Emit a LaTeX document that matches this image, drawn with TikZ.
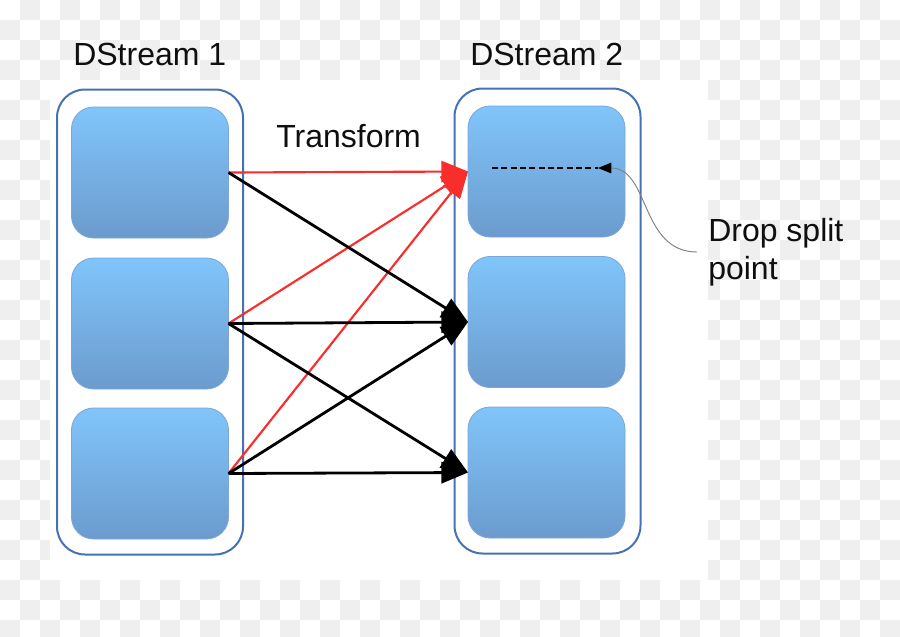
\documentclass[tikz,border=0pt]{standalone}
\usepackage{fontspec}
\setmainfont{Liberation Sans}
\usetikzlibrary{arrows.meta}
\definecolor{checkgray}{RGB}{239,239,239}
\definecolor{boxtop}{RGB}{128,197,250}
\definecolor{boxbot}{RGB}{108,155,206}
\definecolor{boxedge}{RGB}{125,165,215}
\definecolor{contedge}{RGB}{70,114,178}
\definecolor{arrred}{RGB}{250,45,45}
\definecolor{txtblack}{RGB}{15,15,15}
\tikzset{
  container/.style={draw=contedge, line width=1.5pt, rounded corners=21pt,
    minimum width=186*0.75pt, minimum height=465*0.75pt, inner sep=0pt, outer sep=0pt},
  block/.style={draw=boxedge, line width=0.6pt, rounded corners=16.5pt,
    top color=boxtop, bottom color=boxbot,
    minimum width=157*0.75pt, minimum height=131*0.75pt, inner sep=0pt, outer sep=0pt},
  label/.style={font=\fontsize{24}{28.5}\selectfont, text=txtblack, inner sep=0pt, anchor=base west},
  redarrow/.style={draw=arrred, line width=1.6pt, -{Triangle[length=20pt,width=16pt]}},
  blackarrow/.style={draw=black, line width=2.1pt, -{Triangle[length=20pt,width=16pt]}},
}
\begin{document}
\begin{tikzpicture}[x=0.75pt,y=-0.75pt]
\useasboundingbox (0,0) rectangle (900,636);
% transparency checkerboard
\begin{scope}
\clip (0,0) rectangle (900,636);
\foreach \j in {0,...,31} {
  \pgfmathtruncatemacro\off{1-mod(\j,2)}
  \foreach \k in {0,...,22} {
    \fill[checkgray] ({(2*\k+\off)*20},{\j*20}) rectangle +(20,20);
  }
}
\end{scope}
\fill[white] (50,80) rectangle (708,580);

% containers
\node[container] (c1) at (150,322) {};
\node[container] (c2) at (547.5,321) {};

% blocks
\node[block] (l1) at (150,172.5) {};
\node[block] (l2) at (150,323.5) {};
\node[block] (l3) at (150,473.5) {};
\node[block] (r1) at (546.5,171.5) {};
\node[block] (r2) at (546.5,322) {};
\node[block] (r3) at (546.5,472.5) {};

% titles
\node[label] (t1) at (73,65) {DStream 1};
\node[label] (t2) at (470,65) {DStream 2};
\node[label] (tt) at (276,147) {Transform};
\node[label, align=left] (tds) at (708,279) {Drop split\\point};

% red arrows
\draw[redarrow] (l1.east) -- (r1.west);
\draw[redarrow] (l2.east) -- (r1.west);
\draw[redarrow] (l3.east) -- (r1.west);
% black arrows
\draw[blackarrow] (l1.east) -- (r2.west);
\draw[blackarrow] (l2.east) -- (r2.west);
\draw[blackarrow] (l3.east) -- (r2.west);
\draw[blackarrow] (l2.east) -- (r3.west);
\draw[blackarrow] (l3.east) -- (r3.west);

% drop split point
\coordinate (dashL) at (492,168);
\coordinate (dashR) at (598,168);
\coordinate (dropsrc) at (697,252);
\draw[black, line width=2pt, dash pattern=on 4.5pt off 2.5pt] (dashL) -- (dashR);
\draw[gray, line width=0.7pt, -{Triangle[length=10pt,width=8pt,color=black]}]
  (dropsrc) .. controls (640,252) and (650,168) .. (dashR);
\end{tikzpicture}
\end{document}
